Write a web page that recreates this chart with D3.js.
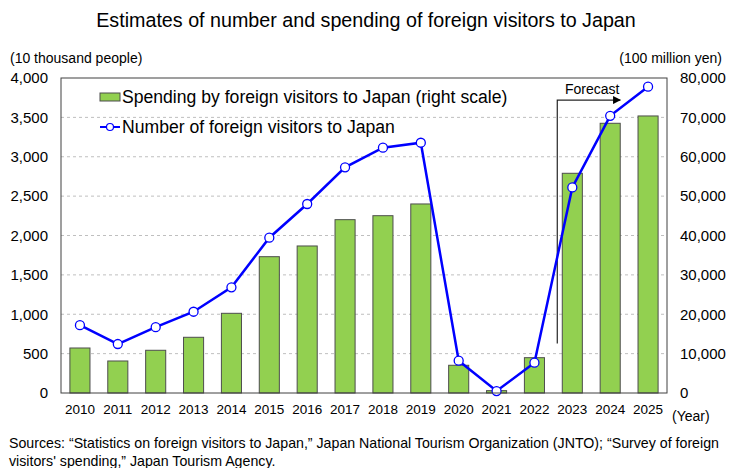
<!DOCTYPE html>
<html>
<head>
<meta charset="utf-8">
<script src="https://cdn.jsdelivr.net/npm/d3@7"></script>
<style>
  body { margin: 0; background: #fff; }
  text { font-family: "Liberation Sans", Arial, sans-serif; fill: #000; }
</style>
</head>
<body>
<script>
// data
var years = ['2010','2011','2012','2013','2014','2015','2016','2017','2018','2019','2020','2021','2022','2023','2024','2025'];
var visitors = [861, 622, 836, 1032, 1342, 1972, 2400, 2866, 3115, 3178, 410, 25, 385, 2610, 3520, 3890];
var spending = [11430, 8130, 10850, 14150, 20240, 34620, 37340, 44020, 45030, 48010, 7040, 600, 8970, 55800, 68500, 70360];
var leftTicks = [0, 500, 1000, 1500, 2000, 2500, 3000, 3500, 4000];
var rightTicks = [0, 10000, 20000, 30000, 40000, 50000, 60000, 70000, 80000];
var forecastFrom = '2023';

function draw_chart(){
  var W = 730, H = 468;
  var plot = {left: 61, right: 667, top: 78, bottom: 393};

  var svg = d3.select('body').append('svg')
    .attr('width', W)
    .attr('height', H);

  var x = d3.scaleBand()
    .domain(years)
    .range([plot.left, plot.right])
    .paddingInner(0.47)
    .paddingOuter(0.235);

  var yL = d3.scaleLinear().domain([0, 4000]).range([plot.bottom, plot.top]);
  var yR = d3.scaleLinear().domain([0, 80000]).range([plot.bottom, plot.top]);

  // title
  svg.append('text')
    .attr('x', 366).attr('y', 27)
    .attr('text-anchor', 'middle')
    .style('font-size', '19.7px')
    .text('Estimates of number and spending of foreign visitors to Japan');

  svg.append('text')
    .attr('x', 10).attr('y', 63)
    .style('font-size', '14px')
    .text('(10 thousand people)');
  svg.append('text')
    .attr('x', 722).attr('y', 63)
    .attr('text-anchor', 'end')
    .style('font-size', '14px')
    .text('(100 million yen)');

  // gridlines
  svg.append('g')
    .selectAll('line')
    .data(leftTicks.filter(function(d){ return d > 0 && d < 4000; }))
    .enter()
    .append('line')
    .attr('x1', plot.left).attr('x2', plot.right)
    .attr('y1', function(d){ return yL(d); })
    .attr('y2', function(d){ return yL(d); })
    .attr('stroke', '#bfbfbf')
    .attr('stroke-width', 1)
    .attr('stroke-dasharray', '3,3');

  // bars
  svg.append('g')
    .selectAll('rect')
    .data(spending)
    .enter()
    .append('rect')
    .attr('x', function(d, i){ return x(years[i]); })
    .attr('y', function(d){ return yR(d); })
    .attr('width', x.bandwidth())
    .attr('height', function(d){ return plot.bottom - yR(d); })
    .attr('fill', '#92d050')
    .attr('stroke', '#4d4d4d')
    .attr('stroke-width', 1);

  // forecast bracket
  svg.append('defs').append('marker')
    .attr('id', 'arrow')
    .attr('viewBox', '0 0 10 10')
    .attr('refX', 9).attr('refY', 5)
    .attr('markerWidth', 8).attr('markerHeight', 8)
    .attr('markerUnits', 'userSpaceOnUse')
    .attr('orient', 'auto')
    .append('path')
    .attr('d', 'M0,0 L10,5 L0,10 Z')
    .attr('fill', '#000');

  var fx = x(forecastFrom) - 5;
  svg.append('path')
    .attr('d', 'M' + fx + ',' + yL(630) + ' L' + fx + ',' + yL(3720) + ' L' + (fx + 63) + ',' + yL(3720))
    .attr('fill', 'none')
    .attr('stroke', '#262626')
    .attr('stroke-width', 1.2)
    .attr('marker-end', 'url(#arrow)');
  svg.append('text')
    .attr('x', fx + 35).attr('y', yL(3720) - 6)
    .attr('text-anchor', 'middle')
    .style('font-size', '14px')
    .text('Forecast');

  // visitors line
  var line = d3.line()
    .x(function(d, i){ return x(years[i]) + x.bandwidth() / 2; })
    .y(function(d){ return yL(d); });

  svg.append('path')
    .datum(visitors)
    .attr('d', line)
    .attr('fill', 'none')
    .attr('stroke', '#0000ff')
    .attr('stroke-width', 2.5);

  svg.append('g')
    .selectAll('circle')
    .data(visitors)
    .enter()
    .append('circle')
    .attr('cx', function(d, i){ return x(years[i]) + x.bandwidth() / 2; })
    .attr('cy', function(d){ return yL(d); })
    .attr('r', 4.5)
    .attr('fill', '#fff')
    .attr('stroke', '#0000ff')
    .attr('stroke-width', 1.3);

  // frame
  svg.append('rect')
    .attr('x', plot.left).attr('y', plot.top)
    .attr('width', plot.right - plot.left)
    .attr('height', plot.bottom - plot.top)
    .attr('fill', 'none')
    .attr('stroke', '#404040')
    .attr('stroke-width', 1);

  // axes
  var gl = svg.append('g')
    .attr('transform', 'translate(' + plot.left + ',0)')
    .call(d3.axisLeft(yL).tickValues(leftTicks).tickSize(0).tickPadding(13).tickFormat(d3.format(',')));
  var gr = svg.append('g')
    .attr('transform', 'translate(' + plot.right + ',0)')
    .call(d3.axisRight(yR).tickValues(rightTicks).tickSize(0).tickPadding(13).tickFormat(d3.format(',')));
  var gb = svg.append('g')
    .attr('transform', 'translate(0,' + plot.bottom + ')')
    .call(d3.axisBottom(x).tickSize(0).tickPadding(11));
  [gl, gr, gb].forEach(function(g){
    g.select('.domain').remove();
    g.selectAll('text')
      .style('font-family', '"Liberation Sans", Arial, sans-serif')
      .style('fill', '#000');
  });
  gl.selectAll('text').style('font-size', '15px');
  gr.selectAll('text').style('font-size', '15px');
  gb.selectAll('text').style('font-size', '13.5px');

  svg.append('text')
    .attr('x', 672).attr('y', 421)
    .style('font-size', '14px')
    .text('(Year)');

  // legend
  var lg = svg.append('g');
  lg.append('rect')
    .attr('x', 100).attr('y', 93)
    .attr('width', 20).attr('height', 8)
    .attr('fill', '#92d050')
    .attr('stroke', '#4d4d4d')
    .attr('stroke-width', 1);
  lg.append('text')
    .attr('x', 122).attr('y', 103)
    .style('font-size', '17.6px')
    .text('Spending by foreign visitors to Japan (right scale)');
  lg.append('line')
    .attr('x1', 100).attr('x2', 120)
    .attr('y1', 127).attr('y2', 127)
    .attr('stroke', '#0000ff')
    .attr('stroke-width', 2);
  lg.append('circle')
    .attr('cx', 110).attr('cy', 127).attr('r', 3.5)
    .attr('fill', '#fff')
    .attr('stroke', '#0000ff')
    .attr('stroke-width', 1.2);
  lg.append('text')
    .attr('x', 122).attr('y', 133)
    .style('font-size', '17.6px')
    .text('Number of foreign visitors to Japan');

  // sources
  svg.append('text')
    .attr('x', 9).attr('y', 448)
    .style('font-size', '14.2px')
    .text('Sources: \u201cStatistics on foreign visitors to Japan,\u201d Japan National Tourism Organization (JNTO); \u201cSurvey of foreign');
  svg.append('text')
    .attr('x', 9).attr('y', 466)
    .style('font-size', '14.2px')
    .text('visitors\' spending,\u201d Japan Tourism Agency.');
}

draw_chart();
</script>
</body>
</html>
